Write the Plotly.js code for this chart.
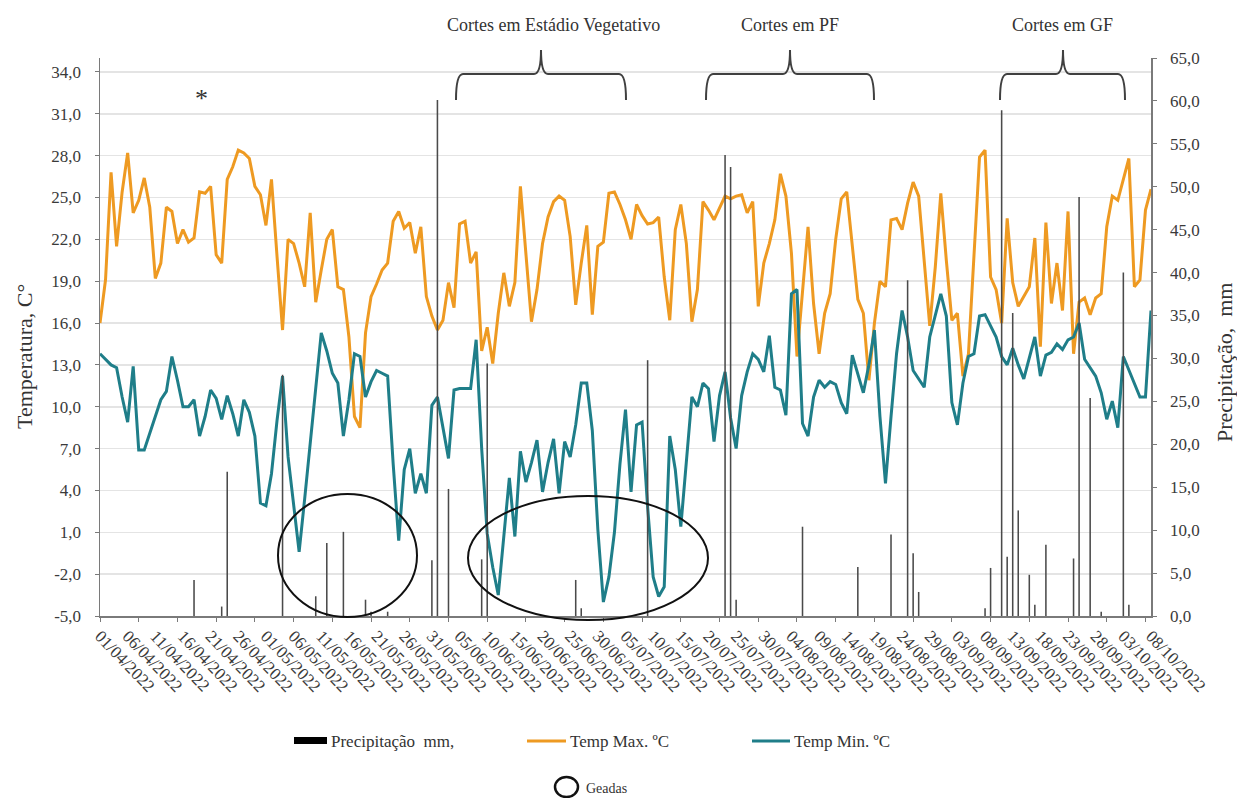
<!DOCTYPE html>
<html><head><meta charset="utf-8">
<script src="https://cdn.plot.ly/plotly-3.0.1.min.js"></script>
<style>html,body{margin:0;padding:0;background:#fff;}#chart{width:1237px;height:798px;}</style>
</head><body><div id="chart"></div>
<script>
const startDate = '2022-04-01';
const tickLabels = ['01/04/2022','06/04/2022','11/04/2022','16/04/2022','21/04/2022','26/04/2022','01/05/2022','06/05/2022','11/05/2022','16/05/2022','21/05/2022','26/05/2022','31/05/2022','05/06/2022','10/06/2022','15/06/2022','20/06/2022','25/06/2022','30/06/2022','05/07/2022','10/07/2022','15/07/2022','20/07/2022','25/07/2022','30/07/2022','04/08/2022','09/08/2022','14/08/2022','19/08/2022','24/08/2022','29/08/2022','03/09/2022','08/09/2022','13/09/2022','18/09/2022','23/09/2022','28/09/2022','03/10/2022','08/10/2022'];
const tempTicks = [-5,-2,1,4,7,10,13,16,19,22,25,28,31,34];
const rainTicks = [0,5,10,15,20,25,30,35,40,45,50,55,60,65];

const tempMax = [
16.0,19.1,26.8,21.5,25.4,28.2,23.9,24.8,26.4,24.3,
19.2,20.3,24.3,24.0,21.7,22.7,21.8,22.1,25.4,25.3,
25.8,20.9,20.3,26.3,27.2,28.4,28.2,27.8,25.8,25.2,
23.0,26.3,20.8,15.5,22.0,21.7,20.3,18.6,23.9,17.5,
19.8,22.0,22.7,18.6,18.4,15.0,9.3,8.5,15.3,17.9,
18.8,19.8,20.3,23.3,24.0,22.8,23.2,21.0,22.9,17.9,
16.5,15.5,16.2,18.9,17.1,23.1,23.3,20.3,21.1,14.0,
15.7,13.1,16.7,19.6,17.2,18.9,25.8,21.2,16.1,18.4,
21.7,23.6,24.7,25.1,24.8,22.2,17.3,20.3,23.0,16.6,
21.5,21.8,25.3,25.4,24.5,23.4,22.0,24.5,23.7,23.1,
23.2,23.6,19.3,16.2,22.7,24.5,21.7,16.1,18.4,24.7,
24.1,23.4,24.3,25.1,24.9,25.1,25.2,23.9,24.7,17.2,
20.3,21.7,23.4,26.7,25.1,21.0,13.6,18.0,22.9,17.4,
13.8,16.7,18.1,22.0,24.9,25.4,21.7,17.7,16.7,11.9,
16.0,19.0,18.6,23.4,23.5,22.7,24.6,26.1,25.1,20.5,
15.8,20.0,25.3,20.5,16.2,16.7,12.2,13.8,21.2,27.9,
28.4,19.3,18.4,16.0,23.5,18.9,17.2,17.9,18.6,22.1,
14.3,23.2,17.4,20.3,16.9,24.0,13.8,17.5,17.8,16.6,
17.8,18.1,22.9,25.1,24.8,26.3,27.8,18.6,19.1,24.1,
25.6];

const tempMin = [
13.8,13.4,13.0,12.8,10.7,8.9,12.9,6.9,6.9,8.1,
9.3,10.5,11.1,13.6,11.9,10.0,10.0,10.5,7.9,9.3,
11.2,10.6,9.1,10.8,9.5,7.9,10.5,9.6,7.9,3.1,
2.9,5.2,9.0,12.2,6.4,2.8,-0.4,3.4,7.4,11.3,
15.3,14.0,12.4,11.7,7.9,10.5,13.8,13.6,10.7,11.8,
12.6,12.4,12.2,5.9,0.4,5.5,7.0,3.8,5.2,3.8,
10.1,10.7,8.5,6.3,11.2,11.3,11.3,11.3,14.8,7.0,
0.9,-1.5,-3.5,1.0,4.9,0.7,6.8,4.6,6.0,7.6,
3.9,6.0,7.7,3.8,7.5,6.4,8.7,11.7,11.7,8.3,
1.2,-4.0,-2.2,1.0,5.9,9.8,3.9,8.7,8.9,2.8,
-2.2,-3.6,-2.9,7.9,5.5,1.4,5.9,10.7,10.0,11.7,
11.3,7.5,10.8,12.5,9.2,7.0,10.8,12.5,13.8,13.4,
12.5,15.1,11.4,11.2,9.4,18.1,18.4,8.8,7.9,10.7,
11.9,11.4,11.8,11.6,10.3,9.5,13.7,12.4,11.0,13.0,
15.5,9.3,4.5,9.3,13.8,16.9,15.0,12.6,12.0,11.4,
15.0,16.5,18.1,16.5,10.3,8.7,11.7,13.6,13.8,16.5,
16.6,15.8,15.0,13.6,13.0,14.2,13.0,12.0,13.5,15.0,
12.2,13.7,13.9,14.5,14.1,14.8,15.0,16.0,13.4,12.8,
12.2,11.0,9.1,10.4,8.5,13.6,12.6,11.7,10.7,10.7,
16.9];

const precip = [
0,0,0,0,0,0,0,0,0,0,
0,0,0,0,0,0,0,4.2,0,0,
0,0,1.1,16.8,0,0,0,0,0,0,
0,0,0,28.1,0,0,0,0,0,2.3,
0,8.5,0,0,9.8,0,0,0,1.9,0.5,
0,0,0.5,0,0,0,0,0,0,0,
6.5,60.1,0,14.8,0,0,0,0,0,6.6,
29.4,0,0,0,0,0,0,0,0,0,
0,0,0,0,0,0,4.2,0.9,0,0,
0,0,0,0,0,0,0,0,0,29.8,
0,0,0,0,0,0,0,0,0,0,
0,0,0,53.7,52.3,1.9,0,0,0,0,
0,0,0,0,0,0,0,10.4,0,0,
0,0,0,0,0,0,0,5.7,0,0,
0,0,0,9.5,0,0,39.1,7.3,2.8,0,
0,0,0,0,0,0,0,0,0,0,
0.9,5.6,0,58.9,6.9,35.3,12.3,0,4.8,1.3,
0,8.3,0,0,0,0,6.7,48.8,0,25.4,
0,0.5,0,0,0,40.0,1.3,0,0,0,
0];

const seriesNames = ['Precipitação  mm,', 'Temp Max. ºC', 'Temp Min. ºC'];
const stageLabels = ['Cortes em Estádio Vegetativo', 'Cortes em PF', 'Cortes em GF'];
const axisTitles = ['Temperatura, C°', 'Precipitação,  mm'];
const frostLabel = 'Geadas';
const colors = {max:'#EE9A22', min:'#1F7E89', rain:'#4a4a4a', axis:'#7a7a7a', text:'#3a3a3a'};

function dayStr(i){const d=new Date(Date.UTC(2022,3,1));d.setUTCDate(d.getUTCDate()+i);return d.toISOString().slice(0,10);}
const dates = tempMax.map((_,i)=>dayStr(i));
const tickVals = tickLabels.map(s=>{const p=s.split('/');return p[2]+'-'+p[1]+'-'+p[0];});
const fmt = v => v.toFixed(1).replace('.', ',');

const PL=100, PR=1151, PT=58, PB=616;
const px = x => (x-PL)/(PR-PL);
const py = y => (PB-y)/(PB-PT);
const F = 'Liberation Serif, Times New Roman, serif';

function brace(xa, xb, xm){
  const yh=74, ye=100, yt=50, r=7;
  return `M ${px(xa)},${py(ye)} Q ${px(xa)},${py(yh)} ${px(xa+r)},${py(yh)} L ${px(xm-r)},${py(yh)} Q ${px(xm)},${py(yh)} ${px(xm)},${py(yt)} Q ${px(xm)},${py(yh)} ${px(xm+r)},${py(yh)} L ${px(xb-r)},${py(yh)} Q ${px(xb)},${py(yh)} ${px(xb)},${py(ye)}`;
}

const traces = [
  {type:'scatter', mode:'lines', x:dates, y:tempMax, name:seriesNames[1], line:{color:colors.max, width:3}},
  {type:'scatter', mode:'lines', x:dates, y:tempMin, name:seriesNames[2], line:{color:colors.min, width:3}},
  {type:'bar', x:dates, y:precip, name:seriesNames[0], yaxis:'y2', width:0.28*86400000, marker:{color:colors.rain, line:{width:0}}}
];

const shapes = [
  {type:'path', xref:'paper', yref:'paper', path:brace(456,626,541), line:{color:'#404040', width:2}},
  {type:'path', xref:'paper', yref:'paper', path:brace(706,874,790), line:{color:'#404040', width:2}},
  {type:'path', xref:'paper', yref:'paper', path:brace(1000,1125,1063), line:{color:'#404040', width:2}},
  {type:'circle', xref:'paper', yref:'paper', x0:px(278), x1:px(417), y0:py(617), y1:py(494), line:{color:'#111', width:2}},
  {type:'circle', xref:'paper', yref:'paper', x0:px(468), x1:px(708), y0:py(620), y1:py(496), line:{color:'#111', width:2}},
  {type:'rect', xref:'paper', yref:'paper', x0:px(294), x1:px(327), y0:py(744), y1:py(737), fillcolor:'#000', line:{width:0}},
  {type:'line', xref:'paper', yref:'paper', x0:px(527), x1:px(566), y0:py(741), y1:py(741), line:{color:colors.max, width:3}},
  {type:'line', xref:'paper', yref:'paper', x0:px(752), x1:px(790), y0:py(741), y1:py(741), line:{color:colors.min, width:3}},
  {type:'circle', xref:'paper', yref:'paper', x0:px(555), x1:px(578), y0:py(797), y1:py(777), line:{color:'#111', width:2.5}}
];

const ann = (x,y,text,size,anchor,angle) => ({xref:'paper', yref:'paper', x:px(x), y:py(y), text:text, showarrow:false,
  xanchor:anchor||'center', yanchor:'middle', textangle:angle||0, font:{family:F, size:size, color:'#333'}});

const annotations = [
  ann(553,25,stageLabels[0],18),
  ann(790,25,stageLabels[1],18),
  ann(1062,25,stageLabels[2],18),
  ann(201,98,'*',26),
  ann(24,357,axisTitles[0],22,'center',-90),
  ann(1224,363,axisTitles[1],22,'center',-90),
  ann(329,741,seriesNames[0],17,'left'),
  ann(568,741,seriesNames[1],17,'left'),
  ann(792,741,seriesNames[2],17,'left'),
  ann(584,788,frostLabel,14,'left')
];

const layout = {
  width:1237, height:798,
  margin:{l:PL, r:1237-PR, t:PT, b:798-PB},
  paper_bgcolor:'#fff', plot_bgcolor:'#fff',
  showlegend:false, hovermode:false,
  font:{family:F, color:colors.text},
  xaxis:{type:'date', range:[dates[0], dates[dates.length-1]], tickmode:'array', tickvals:tickVals, ticktext:tickLabels,
         tickangle:46, tickfont:{family:F, size:17, color:colors.text}, ticks:'', showline:true, linecolor:colors.axis, linewidth:1.5,
         showgrid:false, zeroline:false, ticklabelstandoff:2,
         minor:{tick0:dates[0], dtick:7*86400000, ticks:'outside', ticklen:4, tickcolor:colors.axis, showgrid:false}},
  yaxis:{range:[-5,35], tickmode:'array', tickvals:tempTicks, ticktext:tempTicks.map(fmt), showgrid:true, gridcolor:'#e4e4e4', gridwidth:1.5,
         showline:true, linecolor:colors.axis, linewidth:1.5, ticks:'outside', ticklen:4, tickcolor:colors.axis, zeroline:false,
         tickfont:{family:F, size:17, color:colors.text}, ticklabelstandoff:10},
  yaxis2:{overlaying:'y', side:'right', range:[0,65], tickmode:'array', tickvals:rainTicks, ticktext:rainTicks.map(fmt), showgrid:false,
          showline:true, linecolor:colors.axis, linewidth:1.5, ticks:'outside', ticklen:4, tickcolor:colors.axis, zeroline:false,
          tickfont:{family:F, size:17, color:colors.text}, ticklabelstandoff:10},
  shapes:shapes,
  annotations:annotations
};

Plotly.newPlot('chart', traces, layout, {staticPlot:true, displayModeBar:false});
</script></body></html>
